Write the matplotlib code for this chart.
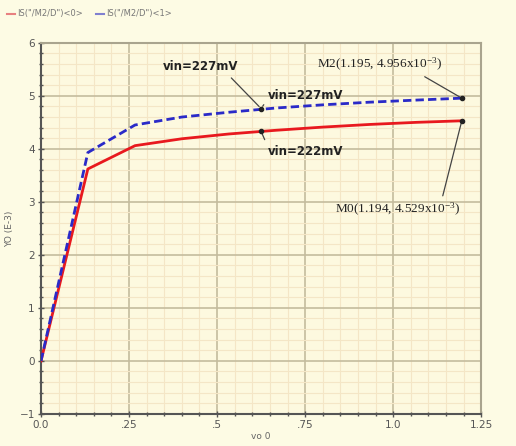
import numpy as np
import matplotlib
matplotlib.use('Agg')
import matplotlib.pyplot as plt
from matplotlib.ticker import MultipleLocator, FixedLocator

plt.rcParams['mathtext.fontset'] = 'custom'
plt.rcParams['mathtext.rm'] = 'Liberation Serif'
plt.rcParams['mathtext.it'] = 'Liberation Serif'

# sweep values (vo 0, YO in E-3)
vo = [0.0, 0.133, 0.267, 0.4, 0.533, 0.667, 0.8, 0.933, 1.067, 1.195]
is_m2_0 = [0.0, 3.62, 4.06, 4.19, 4.28, 4.35, 4.41, 4.46, 4.50, 4.529]
is_m2_1 = [0.0, 3.93, 4.45, 4.60, 4.69, 4.77, 4.83, 4.88, 4.92, 4.956]
series_names = ['IS("/M2/D")<0>', 'IS("/M2/D")<1>']

# marker points
vin_x = 0.625
vin_red = 4.33
vin_blue = 4.76

x_ticks = [0.0, 0.25, 0.5, 0.75, 1.0, 1.25]
x_labels = ['0.0', '.25', '.5', '.75', '1.0', '1.25']
y_ticks = [-1, 0, 1, 2, 3, 4, 5, 6]

bg = '#fdfbe4'
fig = plt.figure(figsize=(5.16, 4.46), dpi=100, facecolor=bg)
ax = fig.add_axes([0.0795, 0.072, 0.853, 0.832])
ax.set_facecolor('#fdf9df')

ax.plot(vo, is_m2_0, color='#e8191e', lw=2.0, zorder=3)
ax.plot(vo, is_m2_1, color='#2a2ac8', lw=2.0, ls=(0, (3, 1.5)), zorder=4)

# marked points
ax.plot([vin_x, vin_x, vo[-1], vo[-1]], [vin_red, vin_blue, is_m2_0[-1], is_m2_1[-1]],
        'o', color='#222222', ms=3, zorder=5)

ax.set_xlim(0, 1.25)
ax.set_ylim(-1, 6)
ax.xaxis.set_major_locator(FixedLocator(x_ticks))
ax.set_xticklabels(x_labels)
ax.yaxis.set_major_locator(FixedLocator(y_ticks))
ax.xaxis.set_minor_locator(MultipleLocator(0.05))
ax.yaxis.set_minor_locator(MultipleLocator(0.2))
ax.grid(which='major', color='#c4bc9e', lw=1.2, zorder=1)
ax.grid(which='minor', color='#f4e6c6', lw=0.8, zorder=0)
ax.set_axisbelow(True)

for s in ['top', 'right']:
    ax.spines[s].set_color('#a9a48e')
    ax.spines[s].set_linewidth(1.5)
for s in ['left', 'bottom']:
    ax.spines[s].set_color('#555555')
    ax.spines[s].set_linewidth(1.5)
ax.tick_params(which='major', direction='inout', length=5, width=1, color='#555555',
               labelsize=7.5, labelcolor='#555555', pad=2)
ax.tick_params(which='minor', direction='inout', length=2.5, width=1, color='#555555')

ax.set_xlabel('vo 0', fontsize=6.5, color='#666666', labelpad=1)
ax.set_ylabel('YO (E-3)', fontsize=6.5, color='#666666', labelpad=4)

# annotations
akw = dict(fontsize=8.5, fontweight='bold', color='#222222', family='DejaVu Sans')
lkw = dict(arrowstyle='-', color='#444444', lw=0.9)
ax.annotate('vin=227mV', xy=(vin_x, vin_blue), xytext=(0.345, 5.55), textcoords='data',
            arrowprops=dict(lkw, relpos=(0.85, 0.0)), ha='left', va='center', **akw)
ax.annotate('vin=227mV', xy=(vin_x, vin_blue), xytext=(0.645, 5.0), textcoords='data',
            arrowprops=dict(lkw, relpos=(0.0, 0.3)), ha='left', va='center', **akw)
ax.annotate('vin=222mV', xy=(vin_x, vin_red), xytext=(0.645, 3.95), textcoords='data',
            arrowprops=dict(lkw, relpos=(0.0, 0.8)), ha='left', va='center', **akw)
mkw = dict(fontsize=9.5, color='#222222', family='Liberation Serif')
ax.annotate(r'M2(1.195, 4.956x10$^{-3}$)', xy=(vo[-1], is_m2_1[-1]), xytext=(0.785, 5.6),
            textcoords='data', arrowprops=dict(lkw, relpos=(0.8, 0.0)), ha='left', va='center', **mkw)
ax.annotate(r'M0(1.194, 4.529x10$^{-3}$)', xy=(vo[-1], is_m2_0[-1]), xytext=(0.835, 2.85),
            textcoords='data', arrowprops=dict(lkw, relpos=(0.85, 1.0)), ha='left', va='center', **mkw)

# legend drawn in figure coords at the top left
fig.lines.append(plt.Line2D([0.014, 0.03], [0.969, 0.969], transform=fig.transFigure,
                            color='#e88080', lw=1.5))
fig.text(0.034, 0.969, series_names[0], fontsize=6, color='#777777', va='center')
fig.lines.append(plt.Line2D([0.186, 0.202], [0.969, 0.969], transform=fig.transFigure,
                            color='#8080d0', lw=1.5))
fig.text(0.206, 0.969, series_names[1], fontsize=6, color='#777777', va='center')

fig.savefig('out.png', dpi=100, facecolor=bg)
